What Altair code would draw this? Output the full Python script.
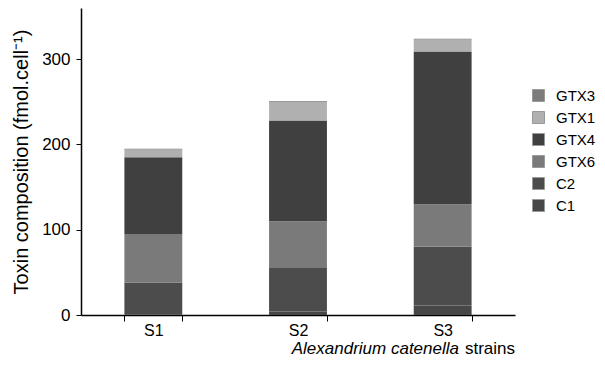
import altair as alt
import pandas as pd

strains = ["S1", "S2", "S3"]
toxins = ["C1", "C2", "GTX6", "GTX4", "GTX1", "GTX3"]
values = {
    "C1":   [1, 4, 11],
    "C2":   [37, 52, 69],
    "GTX6": [57, 54, 50],
    "GTX4": [90, 118, 179],
    "GTX1": [9, 22, 14],
    "GTX3": [1, 1, 1],
}
colors = {
    "GTX3": "#7c7c7c",
    "GTX1": "#b0b0b0",
    "GTX4": "#404040",
    "GTX6": "#7a7a7a",
    "C2": "#4c4c4c",
    "C1": "#474747",
}
legend_order = ["GTX3", "GTX1", "GTX4", "GTX6", "C2", "C1"]

rows = []
for t_i, t in enumerate(toxins):
    for s_i, s in enumerate(strains):
        rows.append({"strain": s, "toxin": t, "value": values[t][s_i], "ord": t_i})
df = pd.DataFrame(rows)

FONT = "Liberation Sans"

bars = alt.Chart(df).mark_bar().encode(
    x=alt.X("strain:N", sort=strains,
            scale=alt.Scale(paddingInner=0.6, paddingOuter=0.3),
            axis=alt.Axis(title=None, labelAngle=0, tickBand="extent",
                          labelFontSize=16, labelFont=FONT, labelColor="black",
                          domainColor="black", tickColor="black", tickSize=6,
                          labelPadding=1, domainWidth=1.5)),
    y=alt.Y("value:Q", stack="zero",
            scale=alt.Scale(domain=[0, 360], nice=False),
            axis=alt.Axis(title="Toxin composition (fmol.cell⁻¹)", values=[0, 100, 200, 300],
                          grid=False, labelFontSize=17, labelFont=FONT, labelColor="black",
                          titleFontSize=20, titleFont=FONT, titleFontWeight="normal",
                          titleColor="black", titlePadding=10,
                          domainColor="black", tickColor="black", tickSize=5,
                          labelPadding=6, domainWidth=1.5)),
    color=alt.Color("toxin:N",
                    scale=alt.Scale(domain=legend_order,
                                    range=[colors[t] for t in legend_order]),
                    legend=alt.Legend(title=None, orient="none", legendX=450, legendY=80,
                                      symbolType="square", symbolSize=144,
                                      symbolStrokeColor="#999999", symbolStrokeWidth=1,
                                      labelFontSize=15, labelFont=FONT, labelColor="black",
                                      rowPadding=5, labelOffset=10)),
    order=alt.Order("ord:Q", sort="ascending"),
)

title_it = alt.Chart(pd.DataFrame({"t": ["Alexandrium catenella"]})).mark_text(
    align="right", baseline="alphabetic", fontSize=17, font=FONT, fontStyle="italic"
).encode(x=alt.value(378), y=alt.value(346), text="t:N")

title_rest = alt.Chart(pd.DataFrame({"t": ["strains"]})).mark_text(
    align="right", baseline="alphabetic", fontSize=17, font=FONT
).encode(x=alt.value(434), y=alt.value(346), text="t:N")

chart = alt.layer(bars, title_it, title_rest).properties(
    width=434, height=307,
    autosize=alt.AutoSizeParams(type="none"),
    padding={"left": 73, "top": 0, "right": 82, "bottom": 42},
).configure_view(stroke=None)

chart.save("out.html", embed_options={"renderer": "svg", "actions": False})
